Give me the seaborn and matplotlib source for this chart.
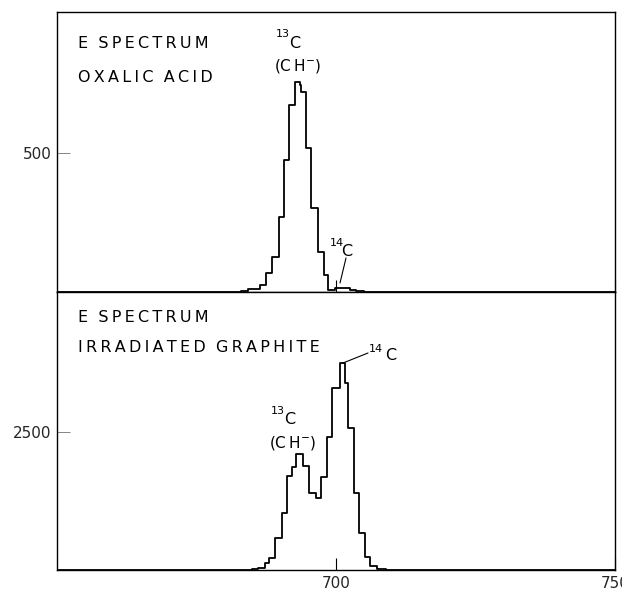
import numpy as np
import pandas as pd
import matplotlib
matplotlib.use("Agg")
import matplotlib.pyplot as plt
import seaborn as sns

# ---- data: E spectrum (counts per channel), hand-drawn histograms ----
oxalic_edges = [650.0, 683.0, 684.2, 685.5, 686.4, 687.5, 688.6, 689.8, 690.6, 691.6,
                692.7, 693.5, 693.8, 694.7, 695.5, 696.7, 697.8, 698.6, 699.8,
                702.5, 703.5, 705.0, 750.0]
oxalic_counts = [0, 4, 9, 11, 24, 67, 127, 271, 475, 673,
                 757, 745, 721, 517, 301, 145, 61, 7, 15,
                 8, 3, 0]

graphite_edges = [650.0, 685.0, 686.1, 687.3, 688.0, 689.1, 690.3, 691.3, 692.2, 692.9,
                  694.1, 695.2, 696.4, 697.3, 698.3, 699.2, 700.7, 701.6, 702.2,
                  703.3, 704.2, 705.2, 706.1, 707.3, 709.0, 712.0, 750.0]
graphite_counts = [0, 10, 40, 121, 211, 574, 1039, 1703, 1872, 2095,
                   1884, 1389, 1298, 1679, 2416, 3291, 3744, 3394, 2566,
                   1389, 677, 242, 72, 20, 6, 0]

x_ticks = [700, 750]
top_yticks = [500]
bottom_yticks = [2500]

W, H = 622, 590
sns.set_theme(style="white")
plt.rcParams["font.family"] = ["DejaVu Sans"]
plt.rcParams["mathtext.fontset"] = "dejavusans"

fig = plt.figure(figsize=(W / 100, H / 100), dpi=100)
fig.patch.set_facecolor("white")

L, R = 57, 615
ax1 = fig.add_axes([L / W, 1 - 292 / H, (R - L) / W, 280 / H])
ax2 = fig.add_axes([L / W, 1 - 570 / H, (R - L) / W, 278 / H])


def draw(ax, edges, counts, ymax, yticks):
    e = [float(v) for v in edges]
    centers = [(a + b) / 2 for a, b in zip(e[:-1], e[1:])]
    df = pd.DataFrame({"channel": centers, "count": [float(c) for c in counts]})
    sns.histplot(data=df, x="channel", weights="count", bins=e, element="step",
                 fill=False, color="black", linewidth=1.3, ax=ax)
    ax.set_xlim(650, 750)
    ax.set_ylim(0, ymax)
    ax.set_ylabel("")
    ax.set_xlabel("")
    ax.set_yticks(yticks)
    ax.set_yticklabels([str(t) for t in yticks], fontsize=11)
    ax.set_xticks(x_ticks)
    ax.tick_params(axis="y", direction="in", length=9, width=0.6, color="0.45",
                   pad=4, left=True)
    ax.tick_params(axis="x", direction="in", length=9, width=0.8, color="black",
                   pad=4, bottom=True)
    for s in ax.spines.values():
        s.set_color("black")
        s.set_linewidth(1.0)
        s.set_visible(True)
    ax.set_facecolor("white")


draw(ax1, oxalic_edges, oxalic_counts, 1007, top_yticks)
draw(ax2, graphite_edges, graphite_counts, 5036, bottom_yticks)
ax1.set_xticklabels([])
ax2.set_xticklabels([str(t) for t in x_ticks], fontsize=11)

TS = "\u2009"


def spaced(s):
    return TS.join(list(s)).replace(TS + " " + TS, "  ")


def ftext(x, y, s, size=11.5, ha="left", va="center"):
    fig.text(x / W, 1 - y / H, s, fontsize=size, ha=ha, va=va, color="black",
             family=["DejaVu Sans"])


# panel captions
ftext(78, 44, spaced("E SPECTRUM"))
ftext(78, 78, spaced("OXALIC ACID"))
ftext(78, 317, spaced("E SPECTRUM"))
ftext(78, 348, spaced("IRRADIATED GRAPHITE"))

# peak labels (top)
ftext(283, 34, "13", size=8, ha="center")
ftext(295, 43, "C", size=11.5, ha="center")
ftext(298, 66, "(C" + TS + "H$^{-}$)", size=11, ha="center")
ftext(337, 243, "14", size=8, ha="center")
ftext(347, 251, "C", size=11.5, ha="center")

# peak labels (bottom)
ftext(278, 411, "13", size=8, ha="center")
ftext(290, 420, "C", size=11.5, ha="center")
ftext(293, 443, "(C" + TS + "H$^{-}$)", size=11, ha="center")
ftext(376, 349, "14", size=8, ha="center")
ftext(391, 356, "C", size=11.5, ha="center")

# leader lines
for (x0, y0, x1, y1) in [(346, 258, 340, 283), (343, 363, 368, 353)]:
    fig.add_artist(plt.Line2D([x0 / W, x1 / W], [1 - y0 / H, 1 - y1 / H],
                              color="black", linewidth=0.8,
                              transform=fig.transFigure))

fig.savefig("out.png", dpi=100, facecolor="white")
